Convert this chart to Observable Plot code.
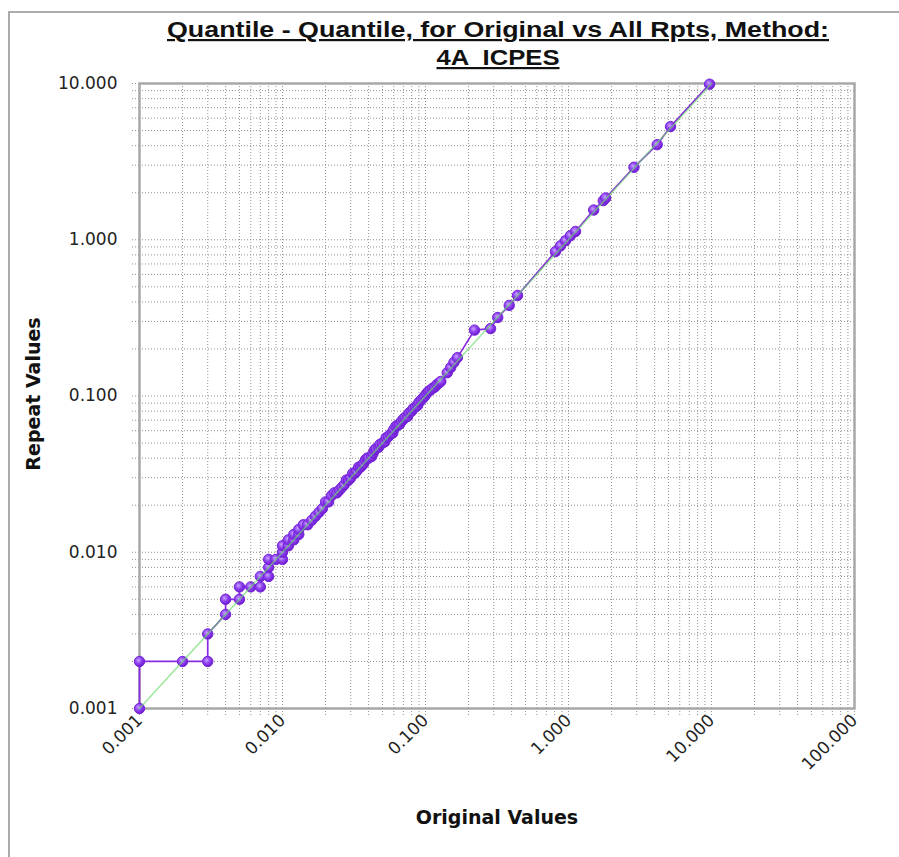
<!DOCTYPE html>
<html><head><meta charset="utf-8">
<script src="https://cdn.jsdelivr.net/npm/d3@7"></script>
<script src="https://cdn.jsdelivr.net/npm/@observablehq/plot@0.6"></script>
<style>
body{margin:0;background:#fff;}
#wrap{position:relative;width:899px;height:857px;overflow:hidden;background:#fff;}
#border{position:absolute;left:8px;top:11px;width:1000px;height:1000px;border:2px solid #ababab;}
#chart{position:absolute;left:0;top:0;}
</style></head><body>
<div id="wrap"><div id="border"></div><div id="chart"></div></div>
<script>
// Quantile pairs (sorted original vs sorted repeat values)
const original = [
0.001,0.001,0.002,0.003,0.003,0.004,0.004,0.005,0.005,0.006,
0.007,0.007,0.008,0.008,0.008,0.009,0.010,0.010,0.010,0.011,
0.011,0.012,0.012,0.013,0.013,0.014,0.015,0.016,0.017,0.018,
0.019,0.020,0.021,0.022,0.023,0.024,0.025,0.026,0.027,0.028,
0.029,0.030,0.031,0.032,0.033,0.034,0.035,0.036,0.037,0.038,
0.039,0.040,0.042,0.043,0.044,0.045,0.047,0.048,0.050,0.052,
0.053,0.055,0.057,0.059,0.060,0.062,0.064,0.066,0.068,0.070,
0.072,0.075,0.077,0.080,0.082,0.085,0.088,0.090,0.093,0.096,
0.099,0.102,0.105,0.108,0.112,0.116,0.120,0.124,0.128,
0.142,0.150,0.158,0.167,0.220,0.285,0.320,0.385,0.440,
0.811,0.880,0.953,1.03,1.12,1.50,1.75,1.82,2.87,4.17,5.17,9.70
];
const repeat = [
0.001,0.002,0.002,0.002,0.003,0.004,0.005,0.005,0.006,0.006,
0.006,0.007,0.007,0.008,0.009,0.009,0.009,0.010,0.011,0.011,
0.012,0.012,0.013,0.013,0.014,0.015,0.015,0.016,0.017,0.018,
0.019,0.021,0.021,0.023,0.024,0.024,0.025,0.026,0.027,0.029,
0.029,0.030,0.032,0.032,0.033,0.035,0.035,0.036,0.037,0.039,
0.040,0.040,0.041,0.043,0.045,0.046,0.047,0.049,0.050,0.051,
0.054,0.055,0.057,0.058,0.061,0.064,0.065,0.066,0.069,0.071,
0.073,0.074,0.078,0.080,0.083,0.085,0.087,0.091,0.094,0.097,
0.100,0.104,0.107,0.109,0.112,0.114,0.118,0.121,0.124,
0.141,0.152,0.164,0.176,0.264,0.270,0.318,0.380,0.440,
0.840,0.915,0.986,1.06,1.13,1.55,1.78,1.85,2.91,4.06,5.30,9.90
];
const referenceLine = [0.001, 10];
const xMajor = [0.001, 0.01, 0.1, 1, 10, 100];
const xTickLabels = ["0.001", "0.010", "0.100", "1.000", "10.000", "100.000"];
const yMajor = [0.001, 0.01, 0.1, 1, 10];
const yTickLabels = ["0.001", "0.010", "0.100", "1.000", "10.000"];
const titleLines = ["Quantile - Quantile, for Original vs All Rpts, Method:", "4A  ICPES"];
const xLabel = "Original Values";
const yLabel = "Repeat Values";

const minorOf = majors => majors.slice(0, -1).flatMap(m => d3.range(1, 10).map(k => +(m * k).toPrecision(3))).concat([majors[majors.length - 1]]);
const xGrid = minorOf(xMajor);
const yGrid = minorOf(yMajor);
const idx = d3.range(original.length);

const gridStyle = {stroke: "#929292", strokeDasharray: "1,2", strokeWidth: 1};

const chart = Plot.plot({
  width: 899, height: 857,
  marginLeft: 139, marginRight: 45, marginTop: 83, marginBottom: 149,
  x: {type: "log", domain: [0.001, 100]},
  y: {type: "log", domain: [0.001, 10]},
  style: {fontFamily: "DejaVu Sans", background: "transparent", color: "#222"},
  marks: [
    Plot.ruleX(xGrid, {x: d => d, ...gridStyle}),
    Plot.ruleY(yGrid, {y: d => d, ...gridStyle}),
    Plot.axisX(xGrid, {tickSize: 9, tickFormat: () => "", ...gridStyle, label: null}),
    Plot.axisY(yGrid, {tickSize: 9, tickFormat: () => "", ...gridStyle, label: null}),
    Plot.axisX(xMajor, {tickSize: 0, tickPadding: 9, tickRotate: -45, textAnchor: "end",
      tickFormat: (d) => xTickLabels[xMajor.indexOf(d)], fontSize: 17, label: null}),
    Plot.axisY(yMajor, {tickSize: 0, tickPadding: 22,
      tickFormat: (d) => yTickLabels[yMajor.indexOf(d)], fontSize: 17, label: null}),
    Plot.frame({stroke: "#a8a8a8", strokeWidth: 2.5}),
    Plot.line(idx, {x: i => original[i], y: i => repeat[i], stroke: "#8a2be2", strokeWidth: 1.7}),
    Plot.dot(idx, {x: i => original[i], y: i => repeat[i], r: 5.2, fill: "url(#pgrad)", stroke: "#7424dc", strokeWidth: 1}),
    Plot.line(referenceLine, {x: d => d, y: d => d, stroke: "rgb(104,218,104)", strokeOpacity: 0.63, strokeWidth: 1.6})
  ]
});

const svg = d3.select(chart);
const defs = svg.insert("defs", ":first-child");
const g = defs.append("radialGradient").attr("id", "pgrad").attr("cx", "40%").attr("cy", "38%").attr("r", "65%");
g.append("stop").attr("offset", "0%").attr("stop-color", "#c9a6ff");
g.append("stop").attr("offset", "45%").attr("stop-color", "#9346f0");
g.append("stop").attr("offset", "100%").attr("stop-color", "#6a16cc");

svg.append("text").attr("x", 498).attr("y", 37).attr("text-anchor", "middle")
  .attr("font-family", "Liberation Sans").attr("font-weight", "bold").attr("font-size", 22)
  .attr("fill", "#111").attr("text-decoration", "underline")
  .attr("textLength", 662).attr("lengthAdjust", "spacingAndGlyphs").text(titleLines[0]);
svg.append("text").attr("x", 498).attr("y", 65).attr("text-anchor", "middle")
  .attr("font-family", "Liberation Sans").attr("font-weight", "bold").attr("font-size", 22)
  .attr("fill", "#111").attr("text-decoration", "underline").style("white-space", "pre")
  .attr("textLength", 123).attr("lengthAdjust", "spacingAndGlyphs").text(titleLines[1]);
svg.append("text").attr("x", 497).attr("y", 824).attr("text-anchor", "middle")
  .attr("font-family", "DejaVu Sans").attr("font-weight", "bold").attr("font-size", 19)
  .attr("fill", "#111").text(xLabel);
svg.append("text").attr("transform", "translate(40,394) rotate(-90)").attr("text-anchor", "middle")
  .attr("font-family", "DejaVu Sans").attr("font-weight", "bold").attr("font-size", 19)
  .attr("fill", "#111").text(yLabel);

document.getElementById("chart").appendChild(chart);
</script>
</body></html>
